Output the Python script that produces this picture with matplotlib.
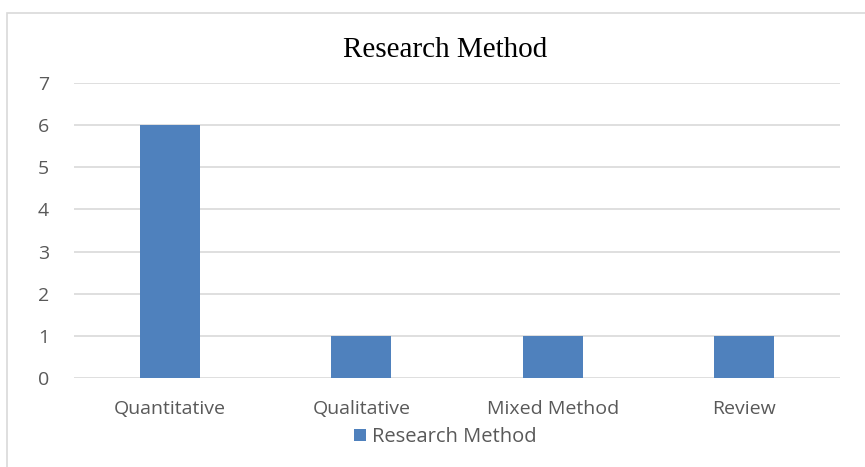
import matplotlib.pyplot as plt
from matplotlib.patches import Rectangle

categories = ["Quantitative", "Qualitative", "Mixed Method", "Review"]
counts = [6, 1, 1, 1]
series_name = "Research Method"

fig = plt.figure(figsize=(8.65, 4.67), dpi=100)
W, H = 865, 467

# outer chart frame
fig.patches.append(Rectangle((7 / W, -0.1), 1.2, 1.1 - 13 / H,
                             transform=fig.transFigure, fill=False,
                             edgecolor="#D9D9D9", linewidth=1.2))

ax = fig.add_axes([74 / W, 89 / H, (840 - 74) / W, (378 - 83) / H])
ax.bar(range(len(categories)), counts, width=0.315, color="#4F81BD",
       label=series_name, zorder=3)
ax.set_xlim(-0.5, len(categories) - 0.5)
ax.set_ylim(0, 7)
ax.set_yticks(range(0, 8))
ax.yaxis.grid(True, color="#D9D9D9", linewidth=1.2, zorder=0)
for s in ax.spines.values():
    s.set_visible(False)
ax.set_xticks(range(len(categories)))
ax.set_xticklabels(categories)
ax.tick_params(length=0, labelsize=14, labelcolor="#595959")
ax.tick_params(axis="x", pad=16)
ax.tick_params(axis="y", pad=18)
for lbl in ax.get_xticklabels() + ax.get_yticklabels():
    lbl.set_family("Open Sans")

fig.text(445 / W, 1 - 50 / H, "Research Method", ha="center", va="center",
         family="Liberation Serif", fontsize=21, color="black")

leg = ax.legend(loc="center", bbox_to_anchor=(445 / W, 1 - 437 / H),
                bbox_transform=fig.transFigure, frameon=False,
                handlelength=0.6, handleheight=0.6, handletextpad=0.3,
                prop={"family": "Open Sans", "size": 14.5})
for t in leg.get_texts():
    t.set_color("#595959")

fig.savefig("out.png", dpi=100)
